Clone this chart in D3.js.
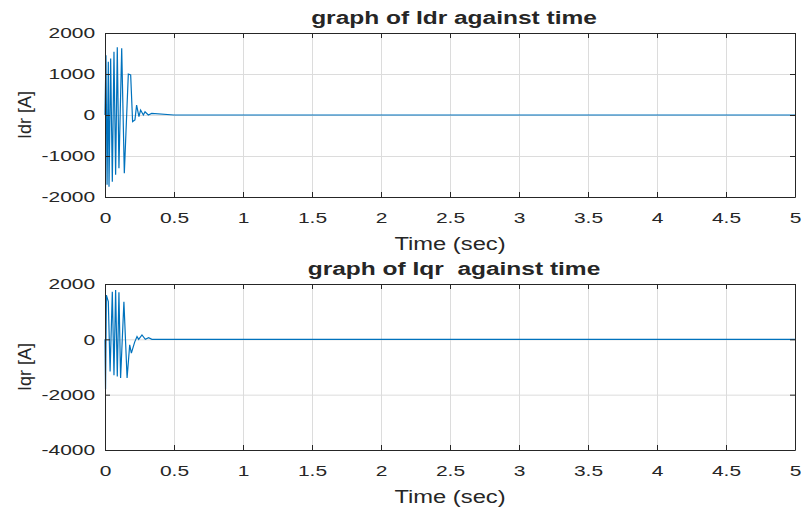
<!DOCTYPE html>
<html>
<head>
<meta charset="utf-8">
<script src="https://cdn.jsdelivr.net/npm/d3@7"></script>
<style>
body { margin: 0; background: #fff; }
text { font-family: "Liberation Sans", Arial, sans-serif; fill: #262626; }
.axis path, .axis line { stroke: #262626; }
.grid line { stroke: #dcdcdc; }
.grid path { display: none; }
</style>
</head>
<body>
<svg width="802" height="508"></svg>
<script>
// time values (sec)
var idrT = [0, 0.007, 0.015, 0.024, 0.029, 0.041, 0.053, 0.065, 0.077, 0.089, 0.101, 0.121, 0.140, 0.169, 0.186, 0.200, 0.217, 0.229, 0.246, 0.258, 0.278, 0.290, 0.314, 0.338, 0.5, 1, 2, 3, 4, 5];
var idrV = [0, 1460, -1700, 1300, -1750, 1380, -1630, 1540, -1460, 1650, -1300, 1630, -1420, 1000, 980, -160, -120, 240, -40, 120, 0, 80, 0, 40, 0, 0, 0, 0, 0, 0];

var iqrT = [0, 0.004, 0.010, 0.024, 0.037, 0.053, 0.065, 0.077, 0.089, 0.101, 0.113, 0.137, 0.160, 0.179, 0.191, 0.203, 0.215, 0.232, 0.244, 0.268, 0.292, 0.316, 0.340, 0.5, 1, 2, 3, 4, 5];
var iqrV = [0, -1800, 1600, 1360, -1160, 1720, -1300, 1780, -1340, 1700, -1400, 1360, -1400, -200, -500, -300, -100, 100, 0, 160, 0, 60, 0, 0, 0, 0, 0, 0, 0];

var xTicks = [0, 0.5, 1, 1.5, 2, 2.5, 3, 3.5, 4, 4.5, 5];
var idrTicks = [-2000, -1000, 0, 1000, 2000];
var iqrTicks = [-4000, -2000, 0, 2000];

// the picture is stretched sideways, so text gets a horizontal scale
var tickSx = 1.4;
var labelSx = 1.32;
var titleSx = 1.29;

var svg = d3.select("svg");
svg.append("rect").attr("width", 802).attr("height", 508).attr("fill", "#fff");

var x = d3.scaleLinear().domain([0, 5]).range([105, 795]);

function label(g, cx, cy, size, bold, s, str) {
    g.append("text")
        .attr("transform", "translate(" + cx + "," + cy + ") scale(" + s + ",1)")
        .attr("text-anchor", "middle")
        .style("font-size", size + "px")
        .style("font-weight", bold ? "bold" : "normal")
        .text(str);
}

function panel(top, bottom, yDomain, yTicks, tVals, vVals, title, ylabel) {
    var y = d3.scaleLinear().domain(yDomain).range([bottom, top]);
    var g = svg.append("g");

    g.append("g")
        .attr("class", "grid")
        .attr("transform", "translate(0," + bottom + ")")
        .call(d3.axisBottom(x).tickValues(xTicks).tickSize(-(bottom - top)).tickFormat(""));
    g.append("g")
        .attr("class", "grid")
        .attr("transform", "translate(105,0)")
        .call(d3.axisLeft(y).tickValues(yTicks).tickSize(-690).tickFormat(""));

    var pts = tVals.map(function(t, i) { return [t, vVals[i]]; });
    var line = d3.line()
        .x(function(d) { return x(d[0]); })
        .y(function(d) { return y(d[1]); });
    g.append("path")
        .attr("d", line(pts))
        .attr("fill", "none")
        .attr("stroke", "#0072BD")
        .attr("stroke-width", 1.2);

    g.append("g")
        .attr("class", "axis")
        .attr("transform", "translate(0," + bottom + ")")
        .call(d3.axisBottom(x).tickValues(xTicks).tickSize(-5).tickSizeOuter(0).tickPadding(15).tickFormat(function(d) { return String(d); }))
        .selectAll("text")
        .style("font-size", "15px").attr("fill", "#262626")
        .attr("transform", "scale(" + tickSx + ",1)");
    g.append("g")
        .attr("class", "axis")
        .attr("transform", "translate(0," + top + ")")
        .call(d3.axisTop(x).tickValues(xTicks).tickSize(-5).tickSizeOuter(0).tickFormat(""));
    g.append("g")
        .attr("class", "axis")
        .attr("transform", "translate(105,0)")
        .call(d3.axisLeft(y).tickValues(yTicks).tickSize(-5).tickSizeOuter(0).tickPadding(7).tickFormat(function(d) { return String(d); }))
        .selectAll("text")
        .style("font-size", "15px").attr("fill", "#262626")
        .attr("transform", "scale(" + tickSx + ",1)");
    g.append("g")
        .attr("class", "axis")
        .attr("transform", "translate(795,0)")
        .call(d3.axisRight(y).tickValues(yTicks).tickSize(-5).tickSizeOuter(0).tickFormat(""));

    label(g, 454, top - 9, 19, true, titleSx, title);
    label(g, 450, bottom + 53, 18, false, labelSx, "Time (sec)");
    g.append("text")
        .attr("transform", "translate(31," + ((top + bottom) / 2) + ") rotate(-90)")
        .attr("text-anchor", "middle")
        .style("font-size", "18px")
        .text(ylabel);
}

panel(33, 197, [-2000, 2000], idrTicks, idrT, idrV, "graph of Idr against time", "Idr [A]");
panel(284, 450, [-4000, 2000], iqrTicks, iqrT, iqrV, "graph of Iqr\u00a0 against time", "Iqr [A]");
</script>
</body>
</html>
